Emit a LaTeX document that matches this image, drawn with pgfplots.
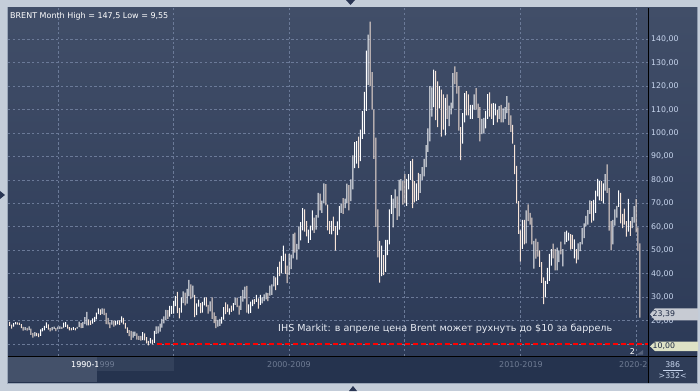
\documentclass[border=0pt]{standalone}
\usepackage{pgfplots}
\pgfplotsset{compat=1.18}
\usepackage{pgfplotstable}
\usepackage{fontspec}
\setmainfont{DejaVu Sans}

\definecolor{outer}{HTML}{C4CDD9}
\definecolor{frame}{HTML}{9AA6B8}
\definecolor{bgtop}{HTML}{414E68}
\definecolor{bgbot}{HTML}{2C3A57}
\definecolor{gridc}{HTML}{6B7A98}
\definecolor{ticklab}{HTML}{C8D6EE}
\definecolor{peach}{HTML}{F7E4D8}
\definecolor{strip}{HTML}{25334E}
\definecolor{band}{HTML}{33415B}
\definecolor{sel}{HTML}{44516A}
\definecolor{graylab}{HTML}{6E7B93}
\definecolor{brpanel}{HTML}{2F3D58}
\definecolor{tri}{HTML}{2A3654}
\definecolor{boxa}{HTML}{C7CBD3}
\definecolor{boxb}{HTML}{DEE2C6}
\definecolor{boxtext}{HTML}{1E2A44}
\definecolor{smalltri}{HTML}{56627C}
\definecolor{newstext}{HTML}{E8ECF4}

% month index m: 0 = Jan 1995; h = high, l = low, c = 1 for a falling month
\pgfplotstableread{
m h l c
-25 19.5 17.8 1
-24 18.3 16.6 1
-23 19.0 17.5 0
-22 19.4 18.4 0
-21 19.3 18.3 1
-20 19.2 18.2 1
-19 18.6 16.8 1
-18 17.4 15.8 1
-17 17.3 16.0 0
-16 17.0 15.8 1
-15 17.6 16.0 0
-14 16.6 14.0 1
-13 14.8 12.8 1
-12 15.1 13.3 0
-11 14.8 13.4 1
-10 14.6 13.0 1
-9 16.3 13.6 0
-8 16.9 15.5 0
-7 17.8 15.9 0
-6 19.3 17.0 0
-5 18.4 16.2 1
-4 16.8 15.5 1
-3 17.3 15.9 0
-2 17.5 16.5 0
-1 16.8 15.6 1
0 17.5 16.3 0
1 17.6 16.5 0
2 17.4 16.5 1
3 19.2 17.1 0
4 19.4 17.4 0
5 18.3 16.6 1
6 17.3 15.9 1
7 17.0 15.9 1
8 17.3 16.1 0
9 16.9 15.9 1
10 17.4 16.6 0
11 19.6 17.3 0
12 19.0 16.8 1
13 19.4 17.0 0
14 21.5 18.6 0
15 23.8 18.0 0
16 20.6 18.0 1
17 20.0 18.2 1
18 21.0 18.8 0
19 21.6 19.5 0
20 23.5 20.6 0
21 25.3 22.8 0
22 24.8 22.5 1
23 25.3 22.8 0
24 25.2 22.4 1
25 23.3 18.6 1
26 21.2 18.4 1
27 19.3 16.9 1
28 20.3 18.3 0
29 20.1 17.5 1
30 19.8 18.0 0
31 20.2 18.4 0
32 20.2 18.2 1
33 21.9 19.2 0
34 21.2 18.5 1
35 19.1 16.6 1
36 17.2 14.8 1
37 16.0 13.4 1
38 15.7 11.8 1
39 15.4 12.8 0
40 15.4 13.5 0
41 14.6 11.9 1
42 13.6 11.8 1
43 13.5 11.5 1
44 15.2 11.7 0
45 14.6 11.6 1
46 13.0 10.4 1
47 11.4 9.55 1
48 12.6 10.3 0
49 12.0 9.9 1
50 15.7 10.6 0
51 17.6 14.4 0
52 17.6 14.6 0
53 18.8 15.4 0
54 20.8 17.1 0
55 21.9 18.9 0
56 24.6 20.3 0
57 24.5 20.8 1
58 26.3 21.8 0
59 26.3 22.9 0
60 28.5 23.0 0
61 30.5 26.2 0
62 32.3 23.2 1
63 25.5 21.0 1
64 30.0 23.5 0
65 32.5 27.5 0
66 32.0 26.5 1
67 33.6 27.3 0
68 37.4 30.5 0
69 35.5 29.2 1
70 35.0 30.0 0
71 31.0 21.5 1
72 27.4 22.4 0
73 29.0 26.0 0
74 27.5 23.2 1
75 28.0 23.5 0
76 30.0 26.5 0
77 30.0 26.0 1
78 26.8 23.0 1
79 28.3 24.0 0
80 30.0 20.8 1
81 23.6 19.0 1
82 22.0 16.8 1
83 20.4 17.5 0
84 20.8 17.8 0
85 21.6 18.8 0
86 25.8 20.5 0
87 27.8 22.8 1
88 27.0 23.7 1
89 25.3 22.6 0
90 26.4 23.8 1
91 27.5 24.3 0
92 29.7 26.8 0
93 29.9 25.8 1
94 26.4 22.6 1
95 30.5 24.6 0
96 33.2 28.2 0
97 34.5 29.4 0
98 34.9 23.5 1
99 27.0 23.0 0
100 28.2 23.4 0
101 29.0 26.2 0
102 29.2 27.1 1
103 31.0 28.0 0
104 29.5 25.2 1
105 31.0 26.8 0
106 30.0 27.4 0
107 31.2 28.4 0
108 32.0 29.1 0
109 31.8 28.4 1
110 35.0 30.7 0
111 35.5 31.0 0
112 39.0 34.6 0
113 38.5 33.0 1
114 43.0 35.2 0
115 45.2 39.0 1
116 47.6 40.2 0
117 52.0 45.5 0
118 48.6 40.0 1
119 43.5 36.0 1
120 48.5 39.5 0
121 48.2 42.0 0
122 57.0 46.6 0
123 57.6 49.0 1
124 52.8 46.0 0
125 60.2 50.4 0
126 62.0 54.3 0
127 68.0 58.5 0
128 67.5 58.0 1
129 62.5 56.0 1
130 58.8 53.2 0
131 60.5 54.5 0
132 67.0 58.5 0
133 64.0 57.5 1
134 65.0 58.8 0
135 74.5 64.0 0
136 74.2 67.0 1
137 71.2 66.0 0
138 78.6 70.0 0
139 78.2 69.2 1
140 69.5 58.5 1
141 62.5 57.0 1
142 62.6 56.8 0
143 64.4 58.3 1
144 60.3 49.9 1
145 62.3 56.5 0
146 68.8 58.8 0
147 69.8 66.0 0
148 72.3 65.5 1
149 72.0 68.0 0
150 78.4 70.0 0
151 77.8 67.0 1
152 80.3 71.0 0
153 90.5 76.0 0
154 96.1 85.0 0
155 96.6 87.0 0
156 98.5 85.0 1
157 101.5 88.0 0
158 109.3 97.5 0
159 117.6 99.5 0
160 135.1 109.5 0
161 141.9 120.5 0
162 147.5 120.0 1
163 126.0 110.0 1
164 110.0 89.0 1
165 98.0 60.0 1
166 67.5 47.0 1
167 54.0 36.2 1
168 52.0 39.0 0
169 48.0 39.4 1
170 54.5 40.8 0
171 54.5 48.0 0
172 67.5 52.5 0
173 73.5 65.5 0
174 72.0 59.8 0
175 76.0 68.0 0
176 73.0 63.0 1
177 80.0 64.5 0
178 80.4 75.5 0
179 79.5 69.5 1
180 82.5 70.0 1
181 80.5 69.0 0
182 82.5 76.0 0
183 88.0 80.0 0
184 89.0 68.0 1
185 79.5 70.5 1
186 78.5 71.0 0
187 83.0 71.5 1
188 82.5 74.5 0
189 85.5 80.0 0
190 89.0 81.5 0
191 94.8 85.5 0
192 102.0 92.0 0
193 120.0 96.5 0
194 119.5 107.0 0
195 127.0 111.0 0
196 126.5 105.5 1
197 122.0 102.5 1
198 120.0 110.5 0
199 118.5 98.5 1
200 116.5 101.5 1
201 115.0 99.0 0
202 116.5 106.0 1
203 111.7 103.0 0
204 113.0 108.0 0
205 125.5 110.5 0
206 128.4 120.8 1
207 126.0 116.8 1
208 120.0 101.0 1
209 102.5 88.5 1
210 108.5 95.5 0
211 117.0 104.5 0
212 117.9 107.5 1
213 116.5 107.5 1
214 112.0 106.0 0
215 112.0 106.0 0
216 116.5 110.0 0
217 119.2 110.0 1
218 112.5 106.5 1
219 111.0 96.5 1
220 106.0 99.5 0
221 106.5 100.0 0
222 109.4 102.0 0
223 116.6 106.0 0
224 117.3 107.0 1
225 112.5 106.0 1
226 112.8 103.5 0
227 112.5 107.5 0
228 110.0 104.5 1
229 111.5 106.0 0
230 112.0 104.5 1
231 110.5 104.5 0
232 111.0 106.0 0
233 115.7 108.5 0
234 113.0 103.5 1
235 107.5 100.5 1
236 103.5 95.5 1
237 95.0 82.5 1
238 86.0 70.0 1
239 71.0 57.0 1
240 58.5 45.2 1
241 63.0 50.6 0
242 63.0 52.5 1
243 67.0 53.0 0
244 69.6 62.5 1
245 66.0 61.0 1
246 64.0 52.5 1
247 54.0 42.2 0
248 55.0 46.5 1
249 53.6 47.3 1
250 50.0 43.0 1
251 45.0 36.1 1
252 38.5 27.1 1
253 37.0 30.0 0
254 42.5 35.7 0
255 48.5 37.0 0
256 50.5 43.5 0
257 52.9 46.6 1
258 50.5 41.5 1
259 51.2 41.5 0
260 50.0 45.0 0
261 53.7 48.3 1
262 50.5 43.2 0
263 57.9 52.5 0
264 58.4 53.6 0
265 57.6 54.2 0
266 56.9 50.3 1
267 56.6 50.6 1
268 54.7 46.6 0
269 50.5 44.4 1
270 53.0 46.0 0
271 53.5 49.7 0
272 59.5 52.5 0
273 61.5 55.2 0
274 64.7 60.2 0
275 67.1 61.0 0
276 71.3 65.5 0
277 71.0 61.8 1
278 71.5 62.7 0
279 75.5 66.0 0
280 80.5 73.0 0
281 79.5 71.3 0
282 79.5 71.0 1
283 78.5 70.0 0
284 82.5 75.5 0
285 86.7 74.5 1
286 76.5 58.4 1
287 62.5 50.0 1
288 63.0 52.5 0
289 67.5 60.5 0
290 69.0 64.0 0
291 75.6 68.5 0
292 74.5 61.5 1
293 65.5 59.5 1
294 67.8 61.0 1
295 62.5 55.9 1
296 71.9 58.0 0
297 62.5 56.2 1
298 64.2 59.5 0
299 68.9 61.8 0
300 71.8 57.7 1
301 59.8 49.9 1
302 53.0 21.3 1
}\brent

\begin{document}
\begin{tikzpicture}
\path[use as bounding box] (0,0) rectangle (700pt,391pt);
\begin{scope}[x=1pt,y=1pt]
  \fill[outer] (0,0) rectangle (700,391);
  \fill[frame] (7,7) rectangle (698,384);
  \shade[top color=bgtop, bottom color=bgbot] (8,35) rectangle (697,383);
  \fill[strip] (8,8) rectangle (697,35);
  \fill[band] (8,20) rectangle (174,34);
  \fill[sel] (8,9) rectangle (97,34);
  \fill[brpanel] (649,8) rectangle (697,35);
  % small navigation triangles
  \fill[tri] (346,391) -- (355,391) -- (350.5,386) -- cycle;
  \fill[tri] (349,0) -- (357,0) -- (353,5) -- cycle;
  \fill[tri] (0,200) -- (0,192) -- (5,196) -- cycle;
\end{scope}

\begin{axis}[
  at={(8pt,35pt)}, anchor=south west,
  scale only axis, width=640pt, height=348pt,
  xmin=-25.9, xmax=306.2, ymin=4.97, ymax=153.3,
  axis line style={draw=none},
  xtick={0,60,...,300}, xticklabels={},
  ytick={10,20,...,140},
  yticklabels={,{20,00},{30,00},{40,00},{50,00},{60,00},{70,00},{80,00},{90,00},{100,00},{110,00},{120,00},{130,00},{140,00}},
  yticklabel pos=right,
  major tick length=0pt,
  tick style={draw=none},
  grid=major,
  major grid style={gridc, line width=0.8pt, dash pattern=on 2.4pt off 2.4pt},
  yticklabel style={anchor=west, inner sep=0pt, xshift=3pt, text=ticklab, font=\fontsize{7.8}{9}\selectfont},
  ybar stacked, bar width=1pt,
]
\addplot[draw=none, fill=none, forget plot] table[x=m, y=l] {\brent};
\addplot[draw=none, fill=white, forget plot] table[x=m, y expr={(\thisrow{h}-\thisrow{l})*(1-\thisrow{c})}] {\brent};
\addplot[draw=none, fill=peach, forget plot] table[x=m, y expr={(\thisrow{h}-\thisrow{l})*\thisrow{c}}] {\brent};
\end{axis}

\begin{axis}[
  at={(8pt,35pt)}, anchor=south west,
  scale only axis, width=640pt, height=348pt,
  xmin=-25.9, xmax=306.2, ymin=4.97, ymax=153.3,
  hide axis,
]
\addplot[red, line width=2pt, dash pattern=on 5pt off 3pt] coordinates {(51.4,10) (306.2,10)};
\end{axis}

\begin{scope}[x=1pt,y=1pt]
  \draw[black, line width=1pt] (648,8) -- (648,383);
  \draw[black, line width=1pt] (8,35) -- (697,35);
  % title
  \node[anchor=base west, inner sep=0pt, text=white, font=\fontsize{8}{10}\selectfont] at (10,372.5) {BRENT Month High = 147,5 Low = 9,55};
  % news text
  \node[anchor=base west, inner sep=0pt, text=newstext, font=\fontsize{9.6}{10}\selectfont] at (278,60) {IHS Markit: в апреле цена Brent может рухнуть до \$10 за баррель};
  % price boxes
  \fill[boxa] (650,76.7) -- (655,82.7) -- (698,82.7) -- (698,70.7) -- (655,70.7) -- cycle;
  \node[anchor=west, inner sep=0pt, text=boxtext, font=\fontsize{7.8}{9}\selectfont] at (652.5,76.7) {23,39};
  \fill[boxb] (650,44.7) -- (655,49.5) -- (698,49.5) -- (698,40) -- (655,40) -- cycle;
  \node[anchor=west, inner sep=0pt, text=boxtext, font=\fontsize{7.8}{9}\selectfont] at (652.5,44.7) {10,00};
  \node[inner sep=0pt, text=white, font=\fontsize{8}{10}\selectfont] at (632.5,39.5) {2};
  \fill[smalltri] (637,36.5) -- (643,36.5) -- (643,41) -- cycle;
  % bottom strip labels
  \node[inner sep=0pt, text=graylab, font=\fontsize{8}{10}\selectfont] at (93,26) {1990-1999};
  \begin{scope}
    \clip (8,8) rectangle (97,35);
    \node[inner sep=0pt, text=white, font=\fontsize{8}{10}\selectfont] at (93,26) {1990-1999};
  \end{scope}
  \node[inner sep=0pt, text=graylab, font=\fontsize{8}{10}\selectfont] at (289,26) {2000-2009};
  \node[inner sep=0pt, text=graylab, font=\fontsize{8}{10}\selectfont] at (521,26) {2010-2019};
  \begin{scope}
    \clip (600,8) rectangle (647.5,35);
    \node[anchor=west, inner sep=0pt, text=graylab, font=\fontsize{8}{10}\selectfont] at (619,26) {2020-2029};
  \end{scope}
  \node[inner sep=0pt, text=ticklab, font=\fontsize{7.8}{9}\selectfont] at (672.7,26) {386};
  \draw[ticklab, line width=0.6pt] (663,20.3) -- (683,20.3);
  \node[inner sep=0pt, text=ticklab, font=\fontsize{7.8}{9}\selectfont] at (672.7,15) {>332<};
\end{scope}
\end{tikzpicture}
\end{document}
